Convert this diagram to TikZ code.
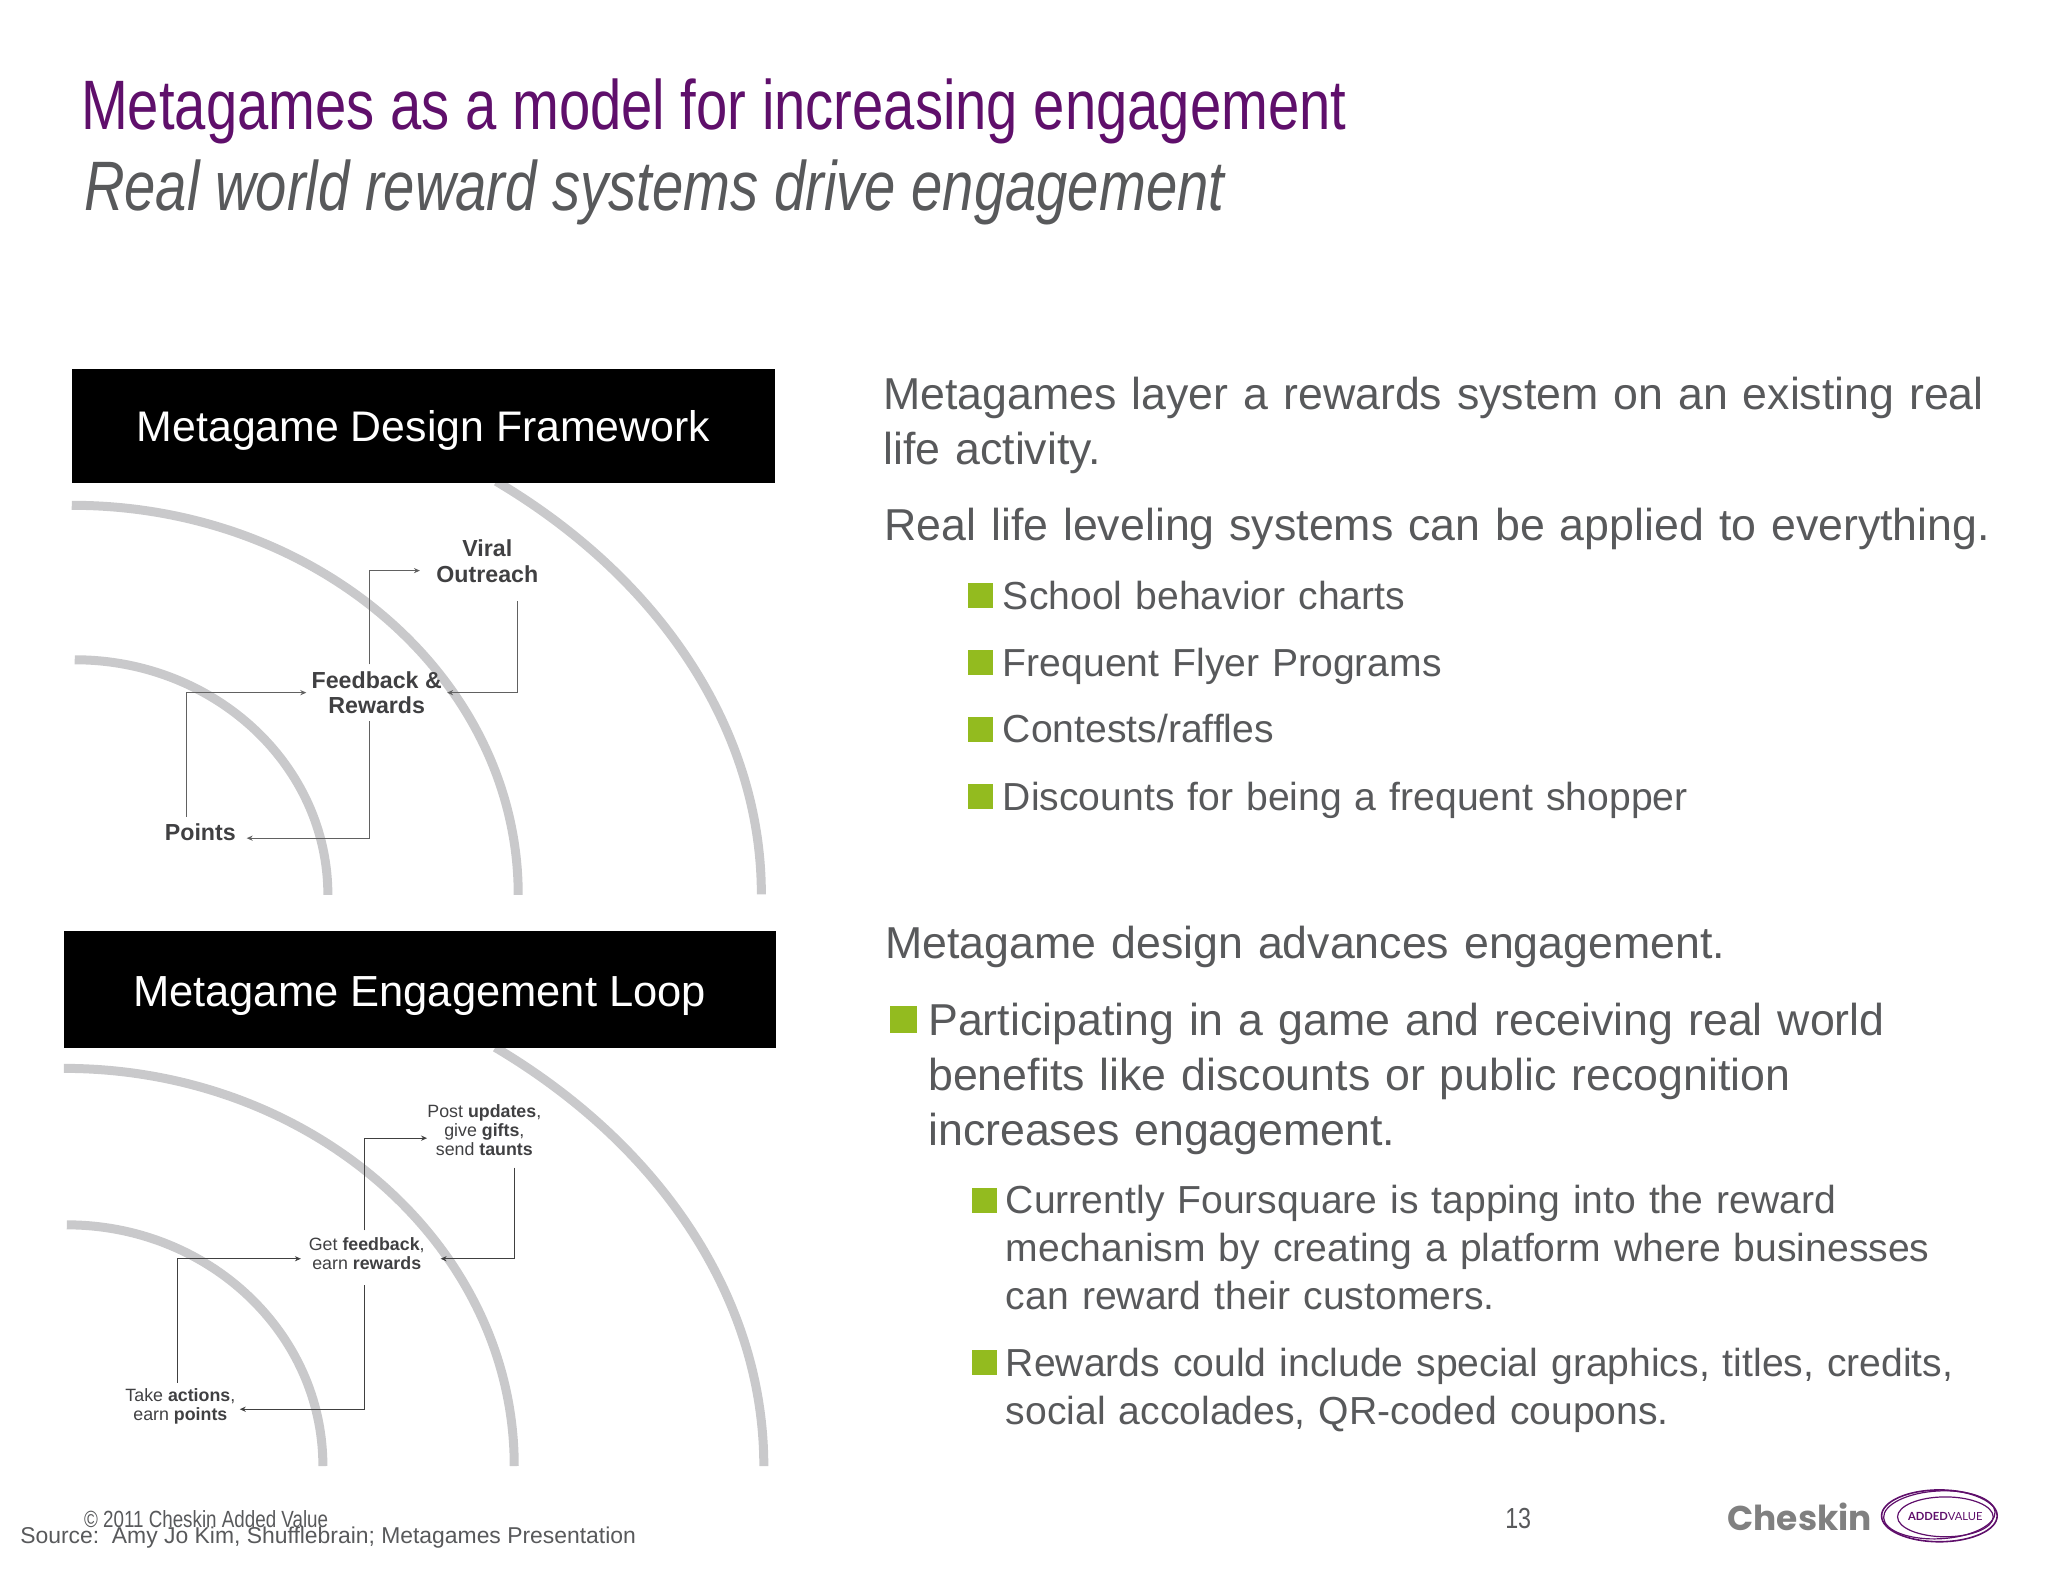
\documentclass[tikz,border=0pt]{standalone}
\usepackage{fontspec}
\setmainfont{Liberation Sans}
\newfontfamily\narrowfont[FakeStretch=0.803]{Liberation Sans}
\newfontfamily\logofont{Lato}
\newfontfamily\brandfont{Poppins}
\usetikzlibrary{arrows.meta, positioning}

\definecolor{plum}{HTML}{5F0F6B}
\definecolor{slate}{HTML}{58595B}
\definecolor{leaf}{HTML}{93BB1F}
\definecolor{ringgray}{HTML}{C9C9CB}
\definecolor{labelgray}{HTML}{404042}

\tikzset{
    ring/.style={draw=ringgray, line width=4.5pt},
    band/.style={fill=black, text=white, inner sep=0pt, font=\fontsize{21.4}{25}\selectfont},
    flow/.style={draw=black!62, line width=0.55pt, -{Stealth[length=3pt, width=2.6pt]}},
    darkflow/.style={flow, draw=black!75},
    tag/.style={inner sep=0pt, align=center, text=labelgray},
    bigtag/.style={tag, font=\fontsize{11.6}{12.9}\bfseries\selectfont},
    smalltag/.style={tag, font=\fontsize{8.9}{9.3}\selectfont},
    body/.style={anchor=base west, inner sep=0pt, text=slate, text width=600pt, align=left,
                 font=\fontsize{22.35}{27.5}\selectfont},
    sub/.style={body, font=\fontsize{19.55}{24}\selectfont},
    sqr/.style={fill=leaf, inner sep=0pt, minimum size=12.5pt},
}

\begin{document}
\begin{tikzpicture}[x=0.4983pt, y=-0.4983pt]
    \useasboundingbox (0,0) rectangle (2055,1587.4);

    % Title lines
    \node[anchor=base west, inner sep=0pt, text=plum, font=\narrowfont\fontsize{35}{40}\selectfont]
        (title) at (81,129.5) {Metagames as a model for increasing engagement};
    \node[anchor=base west, inner sep=0pt, text=slate, font=\narrowfont\itshape\fontsize{35}{40}\selectfont]
        (subtitle) at (84,211) {Real world reward systems drive engagement};

    % Framework rings
    \draw[ring] (75,662) arc[start angle=270, end angle=360, x radius=254, y radius=236];
    \draw[ring] (72,507) arc[start angle=270, end angle=360, x radius=448, y radius=391];
    \draw[ring] (498,483) arc[start angle=308, end angle=360, x radius=692, y radius=526];
    \node[band, minimum width=351.5pt, minimum height=57pt] (bandA) at (425,427.5) {\raisebox{0pt}[15.4pt][0pt]{Metagame Design Framework}};

    % Framework nodes
    \node[bigtag, minimum width=46pt, minimum height=15pt] (points) at (201,835) {Points};
    \node[bigtag, minimum width=70pt, minimum height=28pt] (feedback) at (378,695) {Feedback \&\\Rewards};
    \node[bigtag, minimum width=67pt, minimum height=40pt] (viral) at (489,563) {Viral\\Outreach};

    \draw[flow] ([xshift=-7pt]points.north) |- (feedback.west);
    \draw[flow] ([xshift=-3.75pt]feedback.north) |- ([yshift=-4.75pt]viral.west);
    \draw[flow] ([xshift=15pt]viral.south) |- (feedback.east);
    \draw[flow] ([xshift=-3.75pt]feedback.south) |- ([yshift=-3pt]points.east);

    % Loop rings
    \draw[ring] (67,1229) arc[start angle=270, end angle=360, x radius=257, y radius=242];
    \draw[ring] (64,1072) arc[start angle=270, end angle=360, x radius=452, y radius=399];
    \draw[ring] (497,1051) arc[start angle=308, end angle=360, x radius=701, y radius=533];
    \node[band, minimum width=356pt, minimum height=58.5pt, font=\fontsize{21.75}{25}\selectfont]
        (bandB) at (421,992.6) {\raisebox{0pt}[17.6pt][0pt]{Metagame Engagement Loop}};

    % Loop nodes
    \node[smalltag, minimum width=59pt, minimum height=23pt] (actions) at (181,1411) {Take \textbf{actions},\\earn \textbf{points}};
    \node[smalltag, minimum width=65.5pt, minimum height=27pt] (rewards) at (368,1258) {Get \textbf{feedback},\\earn \textbf{rewards}};
    \node[smalltag, minimum width=51.5pt, minimum height=37pt] (updates) at (486,1134) {Post \textbf{updates},\\give \textbf{gifts},\\send \textbf{taunts}};

    \draw[darkflow] ([xshift=-1.25pt]actions.north) |- ([yshift=-2.5pt]rewards.west);
    \draw[darkflow] ([xshift=-1.25pt,yshift=-2pt]rewards.north) |- ([yshift=-4pt]updates.west);
    \draw[darkflow] ([xshift=15pt]updates.south) |- ([xshift=4pt,yshift=-2.5pt]rewards.east);
    \draw[darkflow] ([xshift=-1.25pt,yshift=-2pt]rewards.south) |- ([yshift=-1.5pt]actions.east);

    % Right column
    \node[body] (layer) at (886,411) {Metagames layer a rewards system on an existing real\\life activity.};
    \node[body] (leveling) at (887,542) {Real life leveling systems can be applied to everything.};
    \foreach \n/\y/\t in {a/612/School behavior charts, b/679/Frequent Flyer Programs,
                          c/745/{Contests/raffles}, d/813/Discounts for being a frequent shopper} {
        \node[sub] (item\n) at (1006,\y) {\t};
    }
    \foreach \n/\y in {a/598, b/665, c/732, d/799} {
        \node[sqr] (mark\n) at (984,\y) {};
    }
    \node[body] (advance) at (888,962) {Metagame design advances engagement.};
    \node[sqr, minimum size=13.5pt] (markbig) at (907,1023) {};
    \node[body] (participate) at (931,1039) {Participating in a game and receiving real world\\benefits like discounts or public recognition\\increases engagement.};
    \node[sqr] (marke) at (988,1205) {};
    \node[sub] (foursq) at (1009,1218) {Currently Foursquare is tapping into the reward\\mechanism by creating a platform where businesses\\can reward their customers.};
    \node[sqr] (markf) at (988,1367) {};
    \node[sub] (coupons) at (1009,1381) {Rewards could include special graphics, titles, credits,\\social accolades, QR-coded coupons.};

    % Footer
    \node[anchor=base west, inner sep=0pt, text=slate, font=\narrowfont\fontsize{11.7}{14}\selectfont]
        (copyright) at (84,1533) {© 2011 Cheskin Added Value};
    \node[anchor=base west, inner sep=0pt, text=slate, font=\fontsize{11.45}{14}\selectfont]
        (source) at (20,1549) {Source:\ \ Amy Jo Kim, Shufflebrain; Metagames Presentation};
    \node[anchor=base west, inner sep=0pt, text=slate, font=\narrowfont\fontsize{14.5}{15}\selectfont]
        (page) at (1510,1534) {13};

    % Logo
    \node[anchor=base west, inner sep=0pt, text=black!50, font=\brandfont\bfseries\fontsize{17.2}{22}\selectfont]
        (cheskin) at (1733,1536) {Cheskin};
    \draw[plum, line width=0.8pt] (1946,1521) ellipse[x radius=58, y radius=26];
    \draw[plum, line width=0.6pt, rotate around={3:(1946,1521)}] (1946,1520) ellipse[x radius=56, y radius=24];
    \draw[plum, line width=0.6pt] (1952,1522) ellipse[x radius=48, y radius=20];
    \node[text=plum, inner sep=0pt, font=\logofont\fontsize{5.6}{6}\selectfont] (added) at (1952,1522) {\textbf{ADDED}VALUE};
\end{tikzpicture}
\end{document}
